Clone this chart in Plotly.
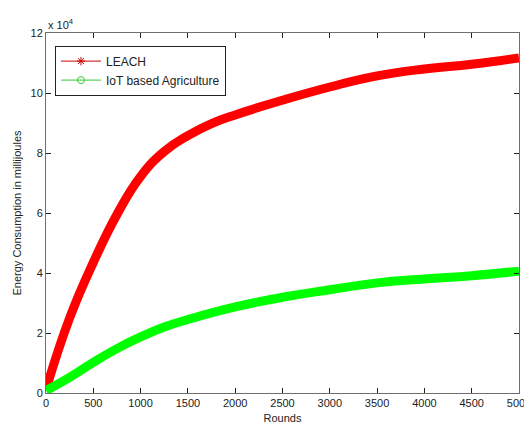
import plotly.graph_objects as go

# Rounds (x) and energy consumption (in units of 10^4 millijoules)
leach_rounds = [0, 250, 500, 750, 1000, 1250, 1500, 1750, 2000, 2500, 3000, 3500, 4000, 4500, 5000]
leach_energy = [0.12, 2.5, 4.35, 5.95, 7.22, 8.05, 8.58, 8.98, 9.27, 9.76, 10.2, 10.57, 10.8, 10.96, 11.17]

iot_rounds = [0, 250, 500, 750, 1000, 1250, 1500, 2000, 2500, 3000, 3500, 4000, 4500, 5000]
iot_energy = [0.08, 0.52, 1.02, 1.48, 1.87, 2.2, 2.45, 2.87, 3.19, 3.44, 3.67, 3.8, 3.91, 4.06]

x_ticks = [0, 500, 1000, 1500, 2000, 2500, 3000, 3500, 4000, 4500, 5000]
y_ticks = [0, 2, 4, 6, 8, 10, 12]

RED = "#ff0000"
GREEN = "#00ff00"
AXC = "#6e6e6e"
FONT = "Liberation Sans, Arial, sans-serif"

fig = go.Figure()

# thick bands (dense markers in the original)
fig.add_trace(go.Scatter(x=leach_rounds, y=leach_energy, mode="lines",
                         line=dict(color=RED, width=9, shape="spline", smoothing=1.3),
                         showlegend=False, hoverinfo="skip"))
fig.add_trace(go.Scatter(x=iot_rounds, y=iot_energy, mode="lines",
                         line=dict(color=GREEN, width=9, shape="spline", smoothing=1.3),
                         showlegend=False, hoverinfo="skip"))

# legend entries
fig.add_trace(go.Scatter(x=[None], y=[None], mode="lines+markers", name="LEACH",
                         line=dict(color="#cc0000", width=1),
                         marker=dict(symbol="asterisk-open", size=7, color="#cc0000",
                                     line=dict(color="#cc0000", width=1))))
fig.add_trace(go.Scatter(x=[None], y=[None], mode="lines+markers", name="IoT based Agriculture",
                         line=dict(color="#33cc33", width=1),
                         marker=dict(symbol="circle-open", size=7, color="#33cc33",
                                     line=dict(color="#33cc33", width=1))))

axis_common = dict(showline=True, mirror="ticks", linecolor=AXC, linewidth=1,
                   ticks="inside", ticklen=5, tickcolor="#222", tickwidth=1,
                   showgrid=False, zeroline=False, ticklabeloverflow="allow",
                   tickfont=dict(family=FONT, size=11, color="#222"))

fig.update_xaxes(range=[0, 5000], tickvals=x_ticks, ticktext=[str(v) for v in x_ticks],
                 title=dict(text="Rounds", font=dict(family=FONT, size=11, color="#222"), standoff=6),
                 **axis_common)
fig.update_yaxes(range=[0, 12], tickvals=y_ticks, ticktext=[str(v) for v in y_ticks],
                 title=dict(text="Energy Consumption in millijoules",
                            font=dict(family=FONT, size=11, color="#222"), standoff=6),
                 **axis_common)

fig.add_annotation(text="x 10<sup>4</sup>", xref="paper", yref="paper", x=0.0, y=1.0,
                   xanchor="left", yanchor="bottom", showarrow=False, yshift=0,
                   font=dict(family=FONT, size=11, color="#222"))

# the page body adds an 8px offset; size the figure so the axes land where the reference has them
fig.update_layout(
    width=524, height=418,
    margin=dict(l=38, r=13, t=25, b=33, autoexpand=False),
    paper_bgcolor="white", plot_bgcolor="white",
    font=dict(family=FONT, size=11, color="#222"),
    legend=dict(x=0.019, y=0.965, xanchor="left", yanchor="top",
                bgcolor="white", bordercolor="#222", borderwidth=1,
                font=dict(family=FONT, size=12, color="#222"),
                tracegroupgap=0, itemwidth=40),
)

fig.write_html("out.html")
